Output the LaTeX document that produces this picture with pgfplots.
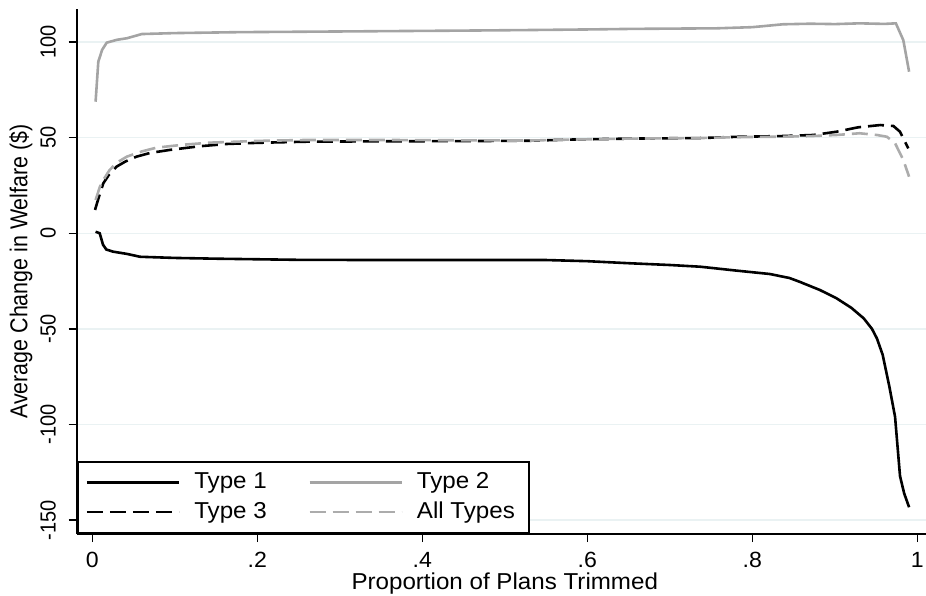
\documentclass[border=0pt]{standalone}
\usepackage{fontspec}
\setmainfont{Liberation Sans}[FakeStretch=1.05]
\newfontfamily\rotfont{Liberation Sans}
\usepackage{graphicx}
\usepackage{pgfplots}
\pgfplotsset{compat=1.18}
\definecolor{gridc}{RGB}{234,242,243}
\definecolor{cgray}{RGB}{164,164,164}
\definecolor{cgrayd}{RGB}{172,172,172}
\newcommand{\rt}[1]{\scalebox{1}[1.09]{#1}}
\newcommand{\rl}[1]{\scalebox{1}[1.14]{#1}}
\begin{document}
\begin{tikzpicture}
\begin{axis}[
  scale only axis, width=424.65pt, height=262.5pt,
  xmin=-0.0189, xmax=1.0105, ymin=-157.3, ymax=117.3,
  axis x line*=bottom, axis y line*=left,
  axis line style={-, line width=1pt, black},
  tick align=outside, major tick length=4pt,
  tick style={black, line width=0.7pt},
  xtick={0,0.2,0.4,0.6,0.8,1},
  xticklabels={0,.2,.4,.6,.8,1},
  ytick={-150,-100,-50,0,50,100},
  yticklabels={\rt{-150},\rt{-100},\rt{-50},\rt{0},\rt{50},\rt{100}},
  xticklabel style={font=\fontsize{11}{13}\selectfont, anchor=base, inner sep=0pt, yshift=-12.8pt},
  yticklabel style={font=\fontsize{10}{12}\rotfont, rotate=90, anchor=base, inner sep=0pt, yshift=6.5pt},
  ymajorgrids, major grid style={color=gridc, line width=0.75pt},
  xlabel={Proportion of Plans Trimmed},
  xlabel style={font=\fontsize{11.5}{13}\selectfont, inner sep=0pt, at={(axis description cs:0.504,-0.0935)}, anchor=center},
  ylabel={\rl{Average Change in Welfare (\$)}},
  ylabel style={font=\fontsize{10.7}{12}\rotfont, inner sep=0pt, at={(axis description cs:-0.0656,0.5)}, anchor=center},
  legend columns=2,
  legend image code/.code={\draw[#1] (0pt,0pt) -- (46pt,0pt);},
  legend style={at={(axis description cs:0,0)}, anchor=south west,
    draw=black, line width=1pt, fill=white,
    inner xsep=4pt, inner ysep=4.3pt, column sep=7pt, row sep=2.5pt,
    font=\fontsize{11.5}{13}\selectfont,
    nodes={inner xsep=0pt, inner ysep=1.3pt}},
]
\addplot[black, line width=1.3pt] coordinates {
(0.004,0.8) (0.009,0) (0.013,-6) (0.017,-8.5) (0.025,-9.6) (0.042,-10.8)
(0.058,-12.3) (0.1,-12.9) (0.15,-13.3) (0.25,-13.9) (0.35,-14.0) (0.45,-14.0)
(0.55,-14.0) (0.60,-14.6) (0.652,-15.7) (0.70,-16.6) (0.737,-17.5) (0.78,-19.5)
(0.821,-21.3) (0.845,-23.4) (0.858,-25.5) (0.882,-29.7) (0.902,-34) (0.92,-39)
(0.935,-44.5) (0.945,-50) (0.951,-55) (0.958,-63.6) (0.966,-80) (0.973,-96)
(0.979,-127) (0.984,-136) (0.990,-143.3)};
\addlegendentry{\makebox[50pt][l]{Type 1}}
\addplot[cgray, line width=1.3pt] coordinates {
(0.004,68.8) (0.0073,89.8) (0.012,96) (0.0175,99.7) (0.03,101.2) (0.042,102)
(0.06,104.2) (0.1,104.7) (0.18,105.2) (0.252,105.4) (0.35,105.7) (0.45,106.0)
(0.531,106.3) (0.60,106.6) (0.655,106.9) (0.757,107.2) (0.80,107.8) (0.82,108.6)
(0.837,109.3) (0.87,109.6) (0.90,109.4) (0.93,109.8) (0.96,109.5) (0.974,109.8)
(0.983,101) (0.990,84.5)};
\addlegendentry{\makebox[52pt][l]{Type 2}}
\addplot[black, line width=1.3pt, dash pattern=on 8pt off 3.5pt] coordinates {
(0.0033,12.2) (0.008,19) (0.0133,26.1) (0.02,30.5) (0.0296,34.9) (0.04,37.5)
(0.0538,40.1) (0.07,42) (0.094,43.6) (0.13,45.5) (0.163,46.7) (0.2,47.3)
(0.26,47.9) (0.35,48.1) (0.45,48.2) (0.531,48.4) (0.579,49.0) (0.65,49.5)
(0.737,49.8) (0.785,50.5) (0.833,50.8) (0.874,51.4) (0.902,53.1) (0.928,55.4)
(0.955,56.6) (0.971,56.1) (0.979,53.1) (0.989,44.4)};
\addlegendentry{\makebox[50pt][l]{Type 3}}
\addplot[cgrayd, line width=1.3pt, dash pattern=on 8pt off 3.5pt] coordinates {
(0.004,17.4) (0.0093,24.4) (0.015,29) (0.021,33.1) (0.03,37) (0.042,40.1)
(0.06,42.8) (0.078,44.8) (0.11,46.3) (0.143,47.4) (0.2,48.3) (0.26,48.8)
(0.35,48.8) (0.45,48.6) (0.531,48.5) (0.579,49.0) (0.65,49.5) (0.737,49.8)
(0.785,50.3) (0.833,50.5) (0.87,50.8) (0.902,51.4) (0.93,52.3) (0.951,51.4)
(0.963,50.5) (0.973,47.1) (0.983,38.3) (0.990,29.6)};
\addlegendentry{\makebox[52pt][l]{All Types}}
\end{axis}
\pgfresetboundingbox
\path[use as bounding box] ([shift={(-38.35pt,-30.5pt)}]current axis.south west) rectangle ++(463pt,297.5pt);
\end{tikzpicture}
\end{document}
